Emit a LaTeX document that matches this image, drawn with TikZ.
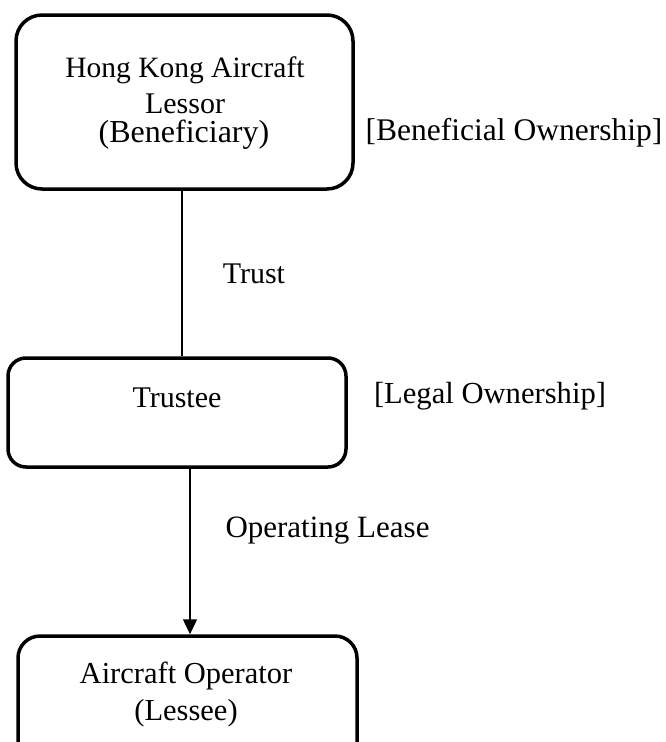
\documentclass[tikz,border=0pt]{standalone}
\usepackage{fontspec}
\setmainfont{Liberation Serif}
\usetikzlibrary{arrows.meta}
\begin{document}
\begin{tikzpicture}[x=1pt,y=-1pt,
  party/.style={draw, line width=3.5pt, rounded corners=#1, inner sep=0pt},
  party/.default=26pt,
  label/.style={anchor=base, inner sep=0pt, font=\fontsize{30}{36}\selectfont},
  link/.style={line width=1.5pt}]
\useasboundingbox (0,0) rectangle (666,742);
\clip (0,0) rectangle (666,742);

% entity boxes
\node[party, minimum width=337pt, minimum height=174pt] (lessor) at (184.5,102) {};
\node[party=18pt, minimum width=338pt, minimum height=109pt] (trustee) at (177,412.5) {};
\node[party=22pt, minimum width=339pt, minimum height=130pt] (operator) at (187.5,701) {};

% box captions
\node[label, font=\fontsize{29.5}{36}\selectfont] (t1) at (185,77) {Hong Kong Aircraft};
\node[label] (t2) at (185,113) {Lessor};
\node[label, font=\fontsize{32}{36}\selectfont] (t3) at (184,142) {(Beneficiary)};
\node[label] (t4) at (177,407) {Trustee};
\node[label, font=\fontsize{30.5}{36}\selectfont] (t5) at (186,683) {Aircraft Operator};
\node[label, font=\fontsize{30.5}{36}\selectfont] (t6) at (186,720) {(Lessee)};

% side notes
\node[label, font=\fontsize{31.5}{36}\selectfont] (bo) at (514,140) {[Beneficial Ownership]};
\node[label, font=\fontsize{30.6}{36}\selectfont] (lo) at (490,403) {[Legal Ownership]};

% connectors
\draw[link] (lessor.south -| 182,0) -- (trustee.north -| 182,0)
  node[label, pos=0.5, anchor=base west, xshift=40pt, yshift=-10pt] (trust) {Trust};
\draw[link, -{Triangle[length=15pt,width=14pt]}] (trustee.south -| 190,0) -- (operator.north -| 190,0);
\node[label, font=\fontsize{31}{36}\selectfont] (ol) at (327.5,537) {Operating Lease};
\end{tikzpicture}
\end{document}
